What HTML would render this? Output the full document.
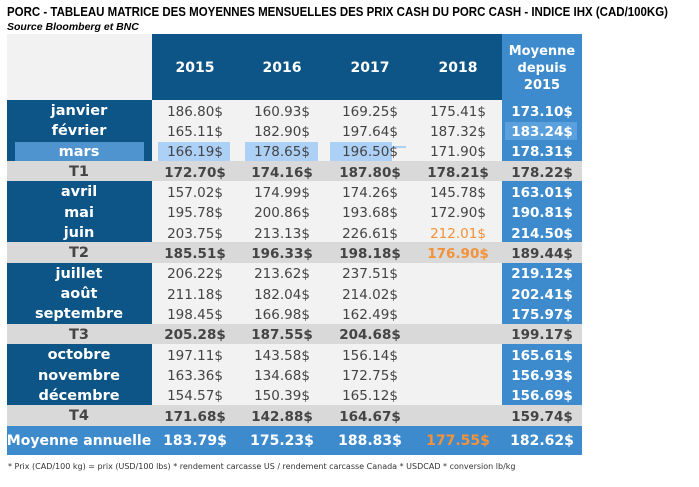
<!DOCTYPE html>
<html><head><meta charset="utf-8"><style>
body{margin:0;width:699px;height:487px;background:#fff;position:relative;overflow:hidden;font-family:"DejaVu Sans","Liberation Sans",sans-serif}
.a{position:absolute;box-sizing:border-box}
.t{position:absolute;text-align:center;white-space:nowrap;transform:translateX(-50%)}
</style></head><body>
<svg class="a" style="left:0;top:0" width="699" height="20"><text x="7" y="16" textLength="661" lengthAdjust="spacingAndGlyphs" font-family="Liberation Sans, sans-serif" font-size="13" font-weight="bold" fill="#000">PORC - TABLEAU MATRICE DES MOYENNES MENSUELLES DES PRIX CASH DU PORC CASH - INDICE IHX (CAD/100KG)</text></svg>
<div class="a" style="left:7px;top:21px;font-family:'Liberation Sans',sans-serif;font-size:10.5px;font-weight:bold;font-style:italic;color:#000">Source Bloomberg et BNC</div>
<div id="tbl"></div>
<div class="a" style="left:8px;top:462px;font-size:8px;color:#333;white-space:nowrap">* Prix (CAD/100 kg) = prix (USD/100 lbs) * rendement carcasse US / rendement carcasse Canada * USDCAD * conversion lb/kg</div>
<script>
const years=["2015","2016","2017","2018"];
const rowLabels=["janvier","février","mars","T1","avril","mai","juin","T2","juillet","août","septembre","T3","octobre","novembre","décembre","T4"];
const v2015=["186.80$","165.11$","166.19$","172.70$","157.02$","195.78$","203.75$","185.51$","206.22$","211.18$","198.45$","205.28$","197.11$","163.36$","154.57$","171.68$"];
const v2016=["160.93$","182.90$","178.65$","174.16$","174.99$","200.86$","213.13$","196.33$","213.62$","182.04$","166.98$","187.55$","143.58$","134.68$","150.39$","142.88$"];
const v2017=["169.25$","197.64$","196.50$","187.80$","174.26$","193.68$","226.61$","198.18$","237.51$","214.02$","162.49$","204.68$","156.14$","172.75$","165.12$","164.67$"];
const v2018=["175.41$","187.32$","171.90$","178.21$","145.78$","172.90$","212.01$","176.90$","","","","","","","",""];
const vMoy=["173.10$","183.24$","178.31$","178.22$","163.01$","190.81$","214.50$","189.44$","219.12$","202.41$","175.97$","199.17$","165.61$","156.93$","156.69$","159.74$"];
const annual=["183.79$","175.23$","188.83$","177.55$","182.62$"];
const tbl=document.getElementById('tbl');
const colC=[195,282,370,458,542];
const L=7,R=582;
function box(x,y,w,h,bg,name){const d=document.createElement('div');d.className='a';


d.style.cssText=`left:${x}px;top:${y}px;width:${w}px;height:${h}px;background:${bg}`;tbl.appendChild(d);return d;}
function txt(cx,cy,s,size,bold,color,name){const d=document.createElement('div');d.className='t';


d.style.cssText=`left:${cx}px;top:${cy-size*0.6+1.5}px;font-size:${size}px;font-weight:${bold?'bold':'normal'};color:${color};line-height:1.2`;d.textContent=s;tbl.appendChild(d);}
box(L,34,145,66,'#f2f2f2','header-blank');
box(152,34,350,66,'#0d5587','header-years');
box(502,34,80,66,'#3d8bcd','header-average');
years.forEach((y,i)=>txt(colC[i],67,y,14,true,'#fff','year-header-'+y));
txt(542,50,'Moyenne',13,true,'#fff','average-header-line1');
txt(542,67,'depuis',13,true,'#fff','average-header-line2');
txt(542,84,'2015',13,true,'#fff','average-header-line3');
box(L,100,R-L,355,'#f2f2f2','data-area');
const rh=20.35;
rowLabels.forEach((lab,i)=>{
 const y=100+i*rh; const isT=lab[0]==='T'; const cy=y+rh/2;
 if(isT){box(L,y,R-L,rh,'#d9d9d9','quarter-row-'+lab);}
 else{box(L,y,145,rh+0.5,'#0d5587','month-label-bg-'+i);box(502,y,80,rh+0.5,'#3d8bcd','average-cell-bg-'+i);}
 if(lab==='mars'){box(15,y+1,129,rh-1,'#4f93cf','mars-highlight');
  box(158,y+1,72,rh-1,'#add0f6','mars-2015-highlight');box(245,y+1,73,rh-1,'#add0f6','mars-2016-highlight');box(330,y+1,62,rh-1,'#add0f6','mars-2017-highlight');box(392,y+5,14,2,'#add0f6','mars-2017-mark');}
 if(lab==='février'){box(505,y+2,72,rh-3,'#5aa0dd','fevrier-average-highlight');}
 txt(79,cy,lab,14.5,true,isT?'#444':'#fff','row-label-'+i);
 [v2015,v2016,v2017,v2018].forEach((arr,k)=>{const s=arr[i];if(!s)return;
  const orange=(k===3&&(i===6||i===7));
  txt(colC[k],cy,s,13.5,isT,orange?'#f39239':'#444','value-'+years[k]+'-'+i);});
 txt(colC[4],cy,vMoy[i],13.5,true,isT?'#444':'#fff','average-value-'+i);
});
const ay=100+16*rh;
box(L,ay,R-L,455-ay,'#3d8bcd','annual-row');
txt(79,(ay+455)/2,'Moyenne annuelle',14,true,'#fff','annual-label');
annual.forEach((s,k)=>txt(colC[k],(ay+455)/2,s,14,true,k===3?'#f39239':'#fff','annual-value-'+k));
</script>
</body></html>
